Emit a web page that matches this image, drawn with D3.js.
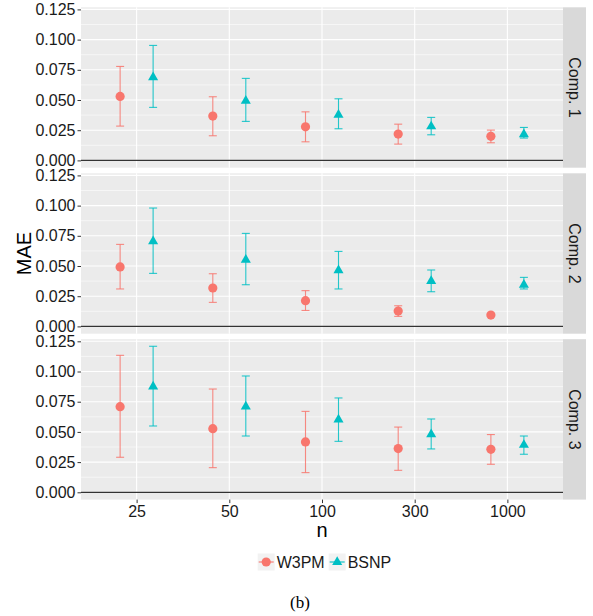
<!DOCTYPE html>
<html>
<head>
<meta charset="utf-8">
<script src="https://cdn.jsdelivr.net/npm/d3@7"></script>
<style>
  body { margin: 0; background: #fff; }
  text { font-family: "Liberation Sans", Arial, sans-serif; }
</style>
</head>
<body>
<div id="chart"></div>
<script>
// ---- data ----
var nLabels = ["25", "50", "100", "300", "1000"];
var components = ["Comp. 1", "Comp. 2", "Comp. 3"];
var methods = ["W3PM", "BSNP"];
var yTicks = [0, 0.025, 0.05, 0.075, 0.1, 0.125];

var w3pmMean = [[0.0530, 0.0367, 0.0278, 0.0218, 0.0199],
                [0.0492, 0.0318, 0.0213, 0.0127, 0.0094],
                [0.0709, 0.0527, 0.0417, 0.0362, 0.0356]];
var w3pmLow  = [[0.0284, 0.0204, 0.0154, 0.0135, 0.0146],
                [0.0310, 0.0199, 0.0132, 0.0083, 0.0086],
                [0.0290, 0.0204, 0.0163, 0.0182, 0.0232]];
var w3pmHigh = [[0.0778, 0.0527, 0.0402, 0.0300, 0.0251],
                [0.0679, 0.0436, 0.0296, 0.0171, 0.0102],
                [0.1134, 0.0855, 0.0670, 0.0540, 0.0478]];
var bsnpMean = [[0.0687, 0.0494, 0.0378, 0.0281, 0.0215],
                [0.0704, 0.0552, 0.0464, 0.0376, 0.0345],
                [0.0875, 0.0709, 0.0602, 0.0480, 0.0392]];
var bsnpLow  = [[0.0439, 0.0323, 0.0262, 0.0212, 0.0185],
                [0.0439, 0.0345, 0.0310, 0.0287, 0.0310],
                [0.0549, 0.0466, 0.0422, 0.0359, 0.0315]];
var bsnpHigh = [[0.0952, 0.0679, 0.0510, 0.0356, 0.0273],
                [0.0980, 0.0770, 0.0621, 0.0467, 0.0406],
                [0.1209, 0.0963, 0.0781, 0.0607, 0.0466]];

var colors = {W3PM: "#F8766D", BSNP: "#00BFC4"};

// ---- layout ----
var width = 593, height = 616;
var panelLeft = 81, panelRight = 563;
var panelTops = [7.3, 173.3, 339.2], panelH = 160.4;
var stripW = 23;

var svg = d3.select("#chart").append("svg")
    .attr("width", width)
    .attr("height", height);

var x = d3.scalePoint()
    .domain(nLabels)
    .range([panelLeft, panelRight])
    .padding(0.6);

var dodge = x.step() * 0.178;

var y = d3.scaleLinear()
    .domain([-0.00604, 0.12675])
    .range([panelH, 0]);

var minorTicks = d3.range(0.0125, 0.13, 0.025);

function rows(ci) {
  var out = [];
  nLabels.forEach(function(n, i) {
    out.push({n: n, m: "W3PM", mean: w3pmMean[ci][i], lo: w3pmLow[ci][i], hi: w3pmHigh[ci][i]});
    out.push({n: n, m: "BSNP", mean: bsnpMean[ci][i], lo: bsnpLow[ci][i], hi: bsnpHigh[ci][i]});
  });
  return out;
}
function px(d) { return x(d.n) + (d.m === "W3PM" ? -dodge : dodge); }

var tri = d3.symbol().type(d3.symbolTriangle).size(44);

components.forEach(function(comp, ci) {
  var g = svg.append("g")
      .attr("transform", "translate(0," + panelTops[ci] + ")");

  g.append("rect")
      .attr("x", panelLeft).attr("y", 0)
      .attr("width", panelRight - panelLeft).attr("height", panelH)
      .attr("fill", "#EBEBEB");

  // minor grid
  g.selectAll(".minor").data(minorTicks).enter().append("line")
      .attr("x1", panelLeft).attr("x2", panelRight)
      .attr("y1", function(d) { return y(d); }).attr("y2", function(d) { return y(d); })
      .attr("stroke", "#fff").attr("stroke-width", 0.55);

  // major grid
  g.selectAll(".major").data(yTicks).enter().append("line")
      .attr("x1", panelLeft).attr("x2", panelRight)
      .attr("y1", function(d) { return y(d); }).attr("y2", function(d) { return y(d); })
      .attr("stroke", "#fff").attr("stroke-width", 1.1);

  g.selectAll(".vgrid").data(nLabels).enter().append("line")
      .attr("x1", function(d) { return x(d); }).attr("x2", function(d) { return x(d); })
      .attr("y1", 0).attr("y2", panelH)
      .attr("stroke", "#fff").attr("stroke-width", 1.1);

  // zero line
  g.append("line")
      .attr("x1", panelLeft).attr("x2", panelRight)
      .attr("y1", y(0)).attr("y2", y(0))
      .attr("stroke", "#333").attr("stroke-width", 1.2);

  // y axis
  var yAxis = d3.axisLeft(y).tickValues(yTicks).tickFormat(d3.format(".3f"))
      .tickSize(3.5).tickPadding(2);
  var ga = g.append("g")
      .attr("transform", "translate(" + panelLeft + ",0)")
      .call(yAxis);
  ga.select(".domain").remove();
  ga.selectAll(".tick line").attr("stroke", "#333");
  ga.selectAll(".tick text").attr("fill", "#1a1a1a")
      .style("font-size", "16px").style("font-family", "Liberation Sans, Arial, sans-serif");

  // strip
  g.append("rect")
      .attr("x", panelRight).attr("y", 0)
      .attr("width", stripW).attr("height", panelH)
      .attr("fill", "#D9D9D9");
  g.append("text")
      .attr("transform", "translate(" + (panelRight + stripW / 2) + "," + (panelH / 2) + ") rotate(90)")
      .attr("text-anchor", "middle")
      .attr("dy", "0.35em")
      .attr("fill", "#1a1a1a")
      .style("font-size", "16px")
      .text(comp);

  var data = rows(ci);

  // error bars
  var eb = g.selectAll(".eb").data(data).enter().append("g")
      .attr("stroke", function(d) { return colors[d.m]; })
      .attr("stroke-opacity", 0.85)
      .attr("stroke-width", 1.1);
  eb.append("line")
      .attr("x1", px).attr("x2", px)
      .attr("y1", function(d) { return y(d.lo); }).attr("y2", function(d) { return y(d.hi); });
  eb.append("line")
      .attr("x1", function(d) { return px(d) - 4; }).attr("x2", function(d) { return px(d) + 4; })
      .attr("y1", function(d) { return y(d.lo); }).attr("y2", function(d) { return y(d.lo); });
  eb.append("line")
      .attr("x1", function(d) { return px(d) - 4; }).attr("x2", function(d) { return px(d) + 4; })
      .attr("y1", function(d) { return y(d.hi); }).attr("y2", function(d) { return y(d.hi); });

  // points
  g.selectAll(".dot").data(data.filter(function(d) { return d.m === "W3PM"; }))
    .enter().append("circle")
      .attr("cx", px).attr("cy", function(d) { return y(d.mean); })
      .attr("r", 4.6)
      .attr("fill", colors.W3PM);
  g.selectAll(".tri").data(data.filter(function(d) { return d.m === "BSNP"; }))
    .enter().append("path")
      .attr("d", tri)
      .attr("transform", function(d) { return "translate(" + px(d) + "," + y(d.mean) + ")"; })
      .attr("fill", colors.BSNP);
});

// x axis under last panel
var bottom = panelTops[2] + panelH;
var xAxis = d3.axisBottom(x).tickSize(3.5).tickPadding(3);
var gx = svg.append("g")
    .attr("transform", "translate(0," + bottom + ")")
    .call(xAxis);
gx.select(".domain").remove();
gx.selectAll(".tick line").attr("stroke", "#333");
gx.selectAll(".tick text").attr("fill", "#1a1a1a")
    .style("font-size", "16px").style("font-family", "Liberation Sans, Arial, sans-serif");

// axis titles
svg.append("text")
    .attr("x", (panelLeft + panelRight) / 2).attr("y", 537)
    .attr("text-anchor", "middle")
    .style("font-size", "20px")
    .text("n");

svg.append("text")
    .attr("transform", "translate(31," + (panelTops[1] + panelH / 2) + ") rotate(-90)")
    .attr("text-anchor", "middle")
    .style("font-size", "20px")
    .text("MAE");

// legend
var legend = svg.append("g").attr("transform", "translate(257.7,553.5)");
var keyX = [0, 71];
methods.forEach(function(m, i) {
  var k = legend.append("g").attr("transform", "translate(" + keyX[i] + ",0)");
  k.append("rect").attr("width", 17).attr("height", 17).attr("fill", "#F2F2F2");
  k.append("line").attr("x1", 1).attr("x2", 16).attr("y1", 8.5).attr("y2", 8.5)
      .attr("stroke", colors[m]).attr("stroke-width", 1.1);
  if (m === "W3PM") {
    k.append("circle").attr("cx", 8.5).attr("cy", 8.5).attr("r", 4.6).attr("fill", colors[m]);
  } else {
    k.append("path").attr("d", tri).attr("transform", "translate(8.5,8.5)").attr("fill", colors[m]);
  }
  k.append("text").attr("x", 19).attr("y", 14.8)
      .style("font-size", "16px").attr("fill", "#1a1a1a")
      .text(m);
});

// caption
svg.append("text")
    .attr("x", 300).attr("y", 608)
    .attr("text-anchor", "middle")
    .style("font-family", "Liberation Serif, Times New Roman, serif")
    .style("font-size", "17px")
    .text("(b)");
</script>
</body>
</html>
